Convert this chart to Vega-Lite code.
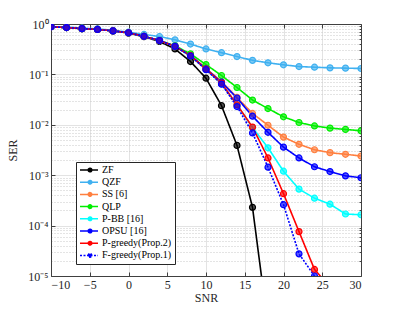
{
  "$schema": "https://vega.github.io/schema/vega-lite/v6.json",
  "width": 310,
  "height": 252,
  "autosize": "none",
  "padding": {"left": 51, "top": 24, "right": 38, "bottom": 34},
  "config": {
    "font": "Liberation Serif",
    "view": {"stroke": null},
    "axis": {"labelFont": "Liberation Serif", "titleFont": "Liberation Serif", "labelFontSize": 12, "titleFontSize": 12, "labelColor": "#262626", "titleColor": "#262626", "titleFontWeight": "normal", "domainColor": "#404040", "tickColor": "#404040"}
  },
  "data": {"values": [
    {"snr": -10, "s": "ZF", "ser": 0.88}, {"snr": -8, "s": "ZF", "ser": 0.85}, {"snr": -6, "s": "ZF", "ser": 0.81}, {"snr": -4, "s": "ZF", "ser": 0.78}, {"snr": -2, "s": "ZF", "ser": 0.73}, {"snr": 0, "s": "ZF", "ser": 0.66}, {"snr": 2, "s": "ZF", "ser": 0.56}, {"snr": 4, "s": "ZF", "ser": 0.45}, {"snr": 6, "s": "ZF", "ser": 0.32}, {"snr": 8, "s": "ZF", "ser": 0.18}, {"snr": 10, "s": "ZF", "ser": 0.084}, {"snr": 12, "s": "ZF", "ser": 0.024}, {"snr": 14, "s": "ZF", "ser": 0.0039}, {"snr": 16, "s": "ZF", "ser": 0.00023}, {"snr": 18, "s": "ZF", "ser": 0.000001},

    {"snr": -10, "s": "QZF", "ser": 0.89}, {"snr": -8, "s": "QZF", "ser": 0.87}, {"snr": -6, "s": "QZF", "ser": 0.83}, {"snr": -4, "s": "QZF", "ser": 0.8}, {"snr": -2, "s": "QZF", "ser": 0.75}, {"snr": 0, "s": "QZF", "ser": 0.69}, {"snr": 2, "s": "QZF", "ser": 0.62}, {"snr": 4, "s": "QZF", "ser": 0.565}, {"snr": 6, "s": "QZF", "ser": 0.486}, {"snr": 8, "s": "QZF", "ser": 0.4}, {"snr": 10, "s": "QZF", "ser": 0.32}, {"snr": 12, "s": "QZF", "ser": 0.27}, {"snr": 14, "s": "QZF", "ser": 0.226}, {"snr": 16, "s": "QZF", "ser": 0.19}, {"snr": 18, "s": "QZF", "ser": 0.17}, {"snr": 20, "s": "QZF", "ser": 0.155}, {"snr": 22, "s": "QZF", "ser": 0.143}, {"snr": 24, "s": "QZF", "ser": 0.139}, {"snr": 26, "s": "QZF", "ser": 0.135}, {"snr": 28, "s": "QZF", "ser": 0.133}, {"snr": 30, "s": "QZF", "ser": 0.131},

    {"snr": -10, "s": "SS [6]", "ser": 0.88}, {"snr": -8, "s": "SS [6]", "ser": 0.85}, {"snr": -6, "s": "SS [6]", "ser": 0.81}, {"snr": -4, "s": "SS [6]", "ser": 0.78}, {"snr": -2, "s": "SS [6]", "ser": 0.73}, {"snr": 0, "s": "SS [6]", "ser": 0.67}, {"snr": 2, "s": "SS [6]", "ser": 0.57}, {"snr": 4, "s": "SS [6]", "ser": 0.47}, {"snr": 6, "s": "SS [6]", "ser": 0.36}, {"snr": 8, "s": "SS [6]", "ser": 0.24}, {"snr": 10, "s": "SS [6]", "ser": 0.132}, {"snr": 12, "s": "SS [6]", "ser": 0.072}, {"snr": 14, "s": "SS [6]", "ser": 0.035}, {"snr": 16, "s": "SS [6]", "ser": 0.0168}, {"snr": 18, "s": "SS [6]", "ser": 0.0098}, {"snr": 20, "s": "SS [6]", "ser": 0.0057}, {"snr": 22, "s": "SS [6]", "ser": 0.0041}, {"snr": 24, "s": "SS [6]", "ser": 0.0032}, {"snr": 26, "s": "SS [6]", "ser": 0.0028}, {"snr": 28, "s": "SS [6]", "ser": 0.0026}, {"snr": 30, "s": "SS [6]", "ser": 0.0024},

    {"snr": -10, "s": "QLP", "ser": 0.88}, {"snr": -8, "s": "QLP", "ser": 0.85}, {"snr": -6, "s": "QLP", "ser": 0.81}, {"snr": -4, "s": "QLP", "ser": 0.78}, {"snr": -2, "s": "QLP", "ser": 0.73}, {"snr": 0, "s": "QLP", "ser": 0.67}, {"snr": 2, "s": "QLP", "ser": 0.57}, {"snr": 4, "s": "QLP", "ser": 0.47}, {"snr": 6, "s": "QLP", "ser": 0.37}, {"snr": 8, "s": "QLP", "ser": 0.255}, {"snr": 10, "s": "QLP", "ser": 0.157}, {"snr": 12, "s": "QLP", "ser": 0.095}, {"snr": 14, "s": "QLP", "ser": 0.055}, {"snr": 16, "s": "QLP", "ser": 0.031}, {"snr": 18, "s": "QLP", "ser": 0.021}, {"snr": 20, "s": "QLP", "ser": 0.0144}, {"snr": 22, "s": "QLP", "ser": 0.0111}, {"snr": 24, "s": "QLP", "ser": 0.0095}, {"snr": 26, "s": "QLP", "ser": 0.0086}, {"snr": 28, "s": "QLP", "ser": 0.0081}, {"snr": 30, "s": "QLP", "ser": 0.0076},

    {"snr": -10, "s": "P-BB [16]", "ser": 0.88}, {"snr": -8, "s": "P-BB [16]", "ser": 0.85}, {"snr": -6, "s": "P-BB [16]", "ser": 0.81}, {"snr": -4, "s": "P-BB [16]", "ser": 0.78}, {"snr": -2, "s": "P-BB [16]", "ser": 0.73}, {"snr": 0, "s": "P-BB [16]", "ser": 0.67}, {"snr": 2, "s": "P-BB [16]", "ser": 0.57}, {"snr": 4, "s": "P-BB [16]", "ser": 0.47}, {"snr": 6, "s": "P-BB [16]", "ser": 0.36}, {"snr": 8, "s": "P-BB [16]", "ser": 0.232}, {"snr": 10, "s": "P-BB [16]", "ser": 0.125}, {"snr": 12, "s": "P-BB [16]", "ser": 0.065}, {"snr": 14, "s": "P-BB [16]", "ser": 0.025}, {"snr": 16, "s": "P-BB [16]", "ser": 0.0088}, {"snr": 18, "s": "P-BB [16]", "ser": 0.0035}, {"snr": 20, "s": "P-BB [16]", "ser": 0.0012}, {"snr": 22, "s": "P-BB [16]", "ser": 0.00053}, {"snr": 24, "s": "P-BB [16]", "ser": 0.00035}, {"snr": 26, "s": "P-BB [16]", "ser": 0.000266}, {"snr": 28, "s": "P-BB [16]", "ser": 0.00017}, {"snr": 30, "s": "P-BB [16]", "ser": 0.000164},

    {"snr": -10, "s": "OPSU [16]", "ser": 0.88}, {"snr": -8, "s": "OPSU [16]", "ser": 0.85}, {"snr": -6, "s": "OPSU [16]", "ser": 0.81}, {"snr": -4, "s": "OPSU [16]", "ser": 0.78}, {"snr": -2, "s": "OPSU [16]", "ser": 0.73}, {"snr": 0, "s": "OPSU [16]", "ser": 0.67}, {"snr": 2, "s": "OPSU [16]", "ser": 0.57}, {"snr": 4, "s": "OPSU [16]", "ser": 0.47}, {"snr": 6, "s": "OPSU [16]", "ser": 0.36}, {"snr": 8, "s": "OPSU [16]", "ser": 0.237}, {"snr": 10, "s": "OPSU [16]", "ser": 0.129}, {"snr": 12, "s": "OPSU [16]", "ser": 0.07}, {"snr": 14, "s": "OPSU [16]", "ser": 0.034}, {"snr": 16, "s": "OPSU [16]", "ser": 0.0148}, {"snr": 18, "s": "OPSU [16]", "ser": 0.0071}, {"snr": 20, "s": "OPSU [16]", "ser": 0.0036}, {"snr": 22, "s": "OPSU [16]", "ser": 0.0022}, {"snr": 24, "s": "OPSU [16]", "ser": 0.00147}, {"snr": 26, "s": "OPSU [16]", "ser": 0.00118}, {"snr": 28, "s": "OPSU [16]", "ser": 0.00097}, {"snr": 30, "s": "OPSU [16]", "ser": 0.00089},

    {"snr": -10, "s": "P-greedy(Prop.2)", "ser": 0.88}, {"snr": -8, "s": "P-greedy(Prop.2)", "ser": 0.85}, {"snr": -6, "s": "P-greedy(Prop.2)", "ser": 0.81}, {"snr": -4, "s": "P-greedy(Prop.2)", "ser": 0.78}, {"snr": -2, "s": "P-greedy(Prop.2)", "ser": 0.73}, {"snr": 0, "s": "P-greedy(Prop.2)", "ser": 0.67}, {"snr": 2, "s": "P-greedy(Prop.2)", "ser": 0.57}, {"snr": 4, "s": "P-greedy(Prop.2)", "ser": 0.47}, {"snr": 6, "s": "P-greedy(Prop.2)", "ser": 0.36}, {"snr": 8, "s": "P-greedy(Prop.2)", "ser": 0.235}, {"snr": 10, "s": "P-greedy(Prop.2)", "ser": 0.127}, {"snr": 12, "s": "P-greedy(Prop.2)", "ser": 0.067}, {"snr": 14, "s": "P-greedy(Prop.2)", "ser": 0.025}, {"snr": 16, "s": "P-greedy(Prop.2)", "ser": 0.009}, {"snr": 18, "s": "P-greedy(Prop.2)", "ser": 0.0022}, {"snr": 20, "s": "P-greedy(Prop.2)", "ser": 0.00043}, {"snr": 22, "s": "P-greedy(Prop.2)", "ser": 0.000076}, {"snr": 24, "s": "P-greedy(Prop.2)", "ser": 0.0000135}, {"snr": 26, "s": "P-greedy(Prop.2)", "ser": 0.000006},

    {"snr": -10, "s": "F-greedy(Prop.1)", "ser": 0.88}, {"snr": -8, "s": "F-greedy(Prop.1)", "ser": 0.85}, {"snr": -6, "s": "F-greedy(Prop.1)", "ser": 0.81}, {"snr": -4, "s": "F-greedy(Prop.1)", "ser": 0.78}, {"snr": -2, "s": "F-greedy(Prop.1)", "ser": 0.73}, {"snr": 0, "s": "F-greedy(Prop.1)", "ser": 0.67}, {"snr": 2, "s": "F-greedy(Prop.1)", "ser": 0.57}, {"snr": 4, "s": "F-greedy(Prop.1)", "ser": 0.47}, {"snr": 6, "s": "F-greedy(Prop.1)", "ser": 0.36}, {"snr": 8, "s": "F-greedy(Prop.1)", "ser": 0.232}, {"snr": 10, "s": "F-greedy(Prop.1)", "ser": 0.124}, {"snr": 12, "s": "F-greedy(Prop.1)", "ser": 0.064}, {"snr": 14, "s": "F-greedy(Prop.1)", "ser": 0.023}, {"snr": 16, "s": "F-greedy(Prop.1)", "ser": 0.0069}, {"snr": 18, "s": "F-greedy(Prop.1)", "ser": 0.00144}, {"snr": 20, "s": "F-greedy(Prop.1)", "ser": 0.00026}, {"snr": 22, "s": "F-greedy(Prop.1)", "ser": 0.0000275}, {"snr": 24, "s": "F-greedy(Prop.1)", "ser": 0.00001}
  ]},
  "layer": [
    {
      "mark": {"type": "line", "strokeWidth": 1.6, "clip": true},
      "encoding": {
        "x": {"field": "snr", "type": "quantitative", "scale": {"domain": [-10, 30], "nice": false}, "axis": {"title": "SNR", "values": [-10, -5, 0, 5, 10, 15, 20, 25, 30], "grid": true, "gridColor": "#e3e3e3", "tickSize": -4, "labelPadding": 7, "titlePadding": 2, "labelAngle": 0}},
        "y": {"field": "ser", "type": "quantitative", "scale": {"type": "log", "domain": [0.00001, 1], "nice": false}, "axis": {"title": "SER", "values": [0.00001, 0.0001, 0.001, 0.01, 0.1, 1], "grid": true, "gridColor": "#e3e3e3", "tickSize": -4, "labelPadding": 7, "titlePadding": 8, "labelExpr": "'10' + ['⁰','⁻¹','⁻²','⁻³','⁻⁴','⁻⁵'][round(-log(datum.value)/LN10)]"}},
        "color": {"field": "s", "type": "nominal", "sort": null, "scale": {"domain": ["ZF", "QZF", "SS [6]", "QLP", "P-BB [16]", "OPSU [16]", "P-greedy(Prop.2)", "F-greedy(Prop.1)"], "range": ["#000000", "#3fb0f0", "#ff7f3f", "#00ee00", "#00ffff", "#0000ff", "#ff0000", "#0000ff"]}, "legend": {"title": null, "orient": "none", "legendX": 25, "legendY": 138, "fillColor": "white", "strokeColor": "#262626", "padding": 3, "labelFont": "Liberation Serif", "labelFontSize": 10, "labelColor": "#000000", "rowPadding": 2.2, "symbolSize": 64, "symbolStrokeWidth": 1.5, "labelOffset": 13, "symbolType": "M-1,0L2.5,0M1.05,0A0.45,0.45 0 1,1 1.95,0A0.45,0.45 0 1,1 1.05,0M-1,0L3.5,0"}},
        "strokeDash": {"field": "s", "type": "nominal", "sort": null, "scale": {"domain": ["ZF", "QZF", "SS [6]", "QLP", "P-BB [16]", "OPSU [16]", "P-greedy(Prop.2)", "F-greedy(Prop.1)"], "range": [[1, 0], [1, 0], [1, 0], [1, 0], [1, 0], [1, 0], [1, 0], [2, 1.5]]}, "legend": {"title": null}}
      }
    },
    {
      "mark": {"type": "point", "filled": true, "size": 36, "strokeWidth": 1.2, "fillOpacity": 0.65, "clip": true},
      "encoding": {
        "x": {"field": "snr", "type": "quantitative", "axis": null},
        "y": {"field": "ser", "type": "quantitative", "axis": null},
        "color": {"field": "s", "type": "nominal", "sort": null},
        "stroke": {"field": "s", "type": "nominal", "sort": null, "legend": null, "scale": {"domain": ["ZF", "QZF", "SS [6]", "QLP", "P-BB [16]", "OPSU [16]", "P-greedy(Prop.2)", "F-greedy(Prop.1)"], "range": ["#000000", "#3fb0f0", "#ff7f3f", "#00ee00", "#00ffff", "#0000ff", "#ff0000", "#0000ff"]}}
      }
    },
    {
      "mark": {"type": "line", "opacity": 0},
      "encoding": {
        "x": {"field": "snr", "type": "quantitative", "axis": {"orient": "top", "title": null, "labels": false, "values": [-10, -5, 0, 5, 10, 15, 20, 25, 30], "grid": false, "tickSize": -4}},
        "y": {"field": "ser", "type": "quantitative", "axis": {"orient": "right", "title": null, "labels": false, "grid": true, "gridColor": "#c8c8c8", "gridDash": [1, 2], "tickSize": -2, "values": [0.00002, 0.00003, 0.00004, 0.00005, 0.00006, 0.00007, 0.00008, 0.00009, 0.0002, 0.0003, 0.0004, 0.0005, 0.0006, 0.0007, 0.0008, 0.0009, 0.002, 0.003, 0.004, 0.005, 0.006, 0.007, 0.008, 0.009, 0.02, 0.03, 0.04, 0.05, 0.06, 0.07, 0.08, 0.09, 0.2, 0.3, 0.4, 0.5, 0.6, 0.7, 0.8, 0.9]}},
        "detail": {"field": "s", "type": "nominal"}
      }
    }
  ],
  "resolve": {"axis": {"x": "independent", "y": "independent"}}
}
